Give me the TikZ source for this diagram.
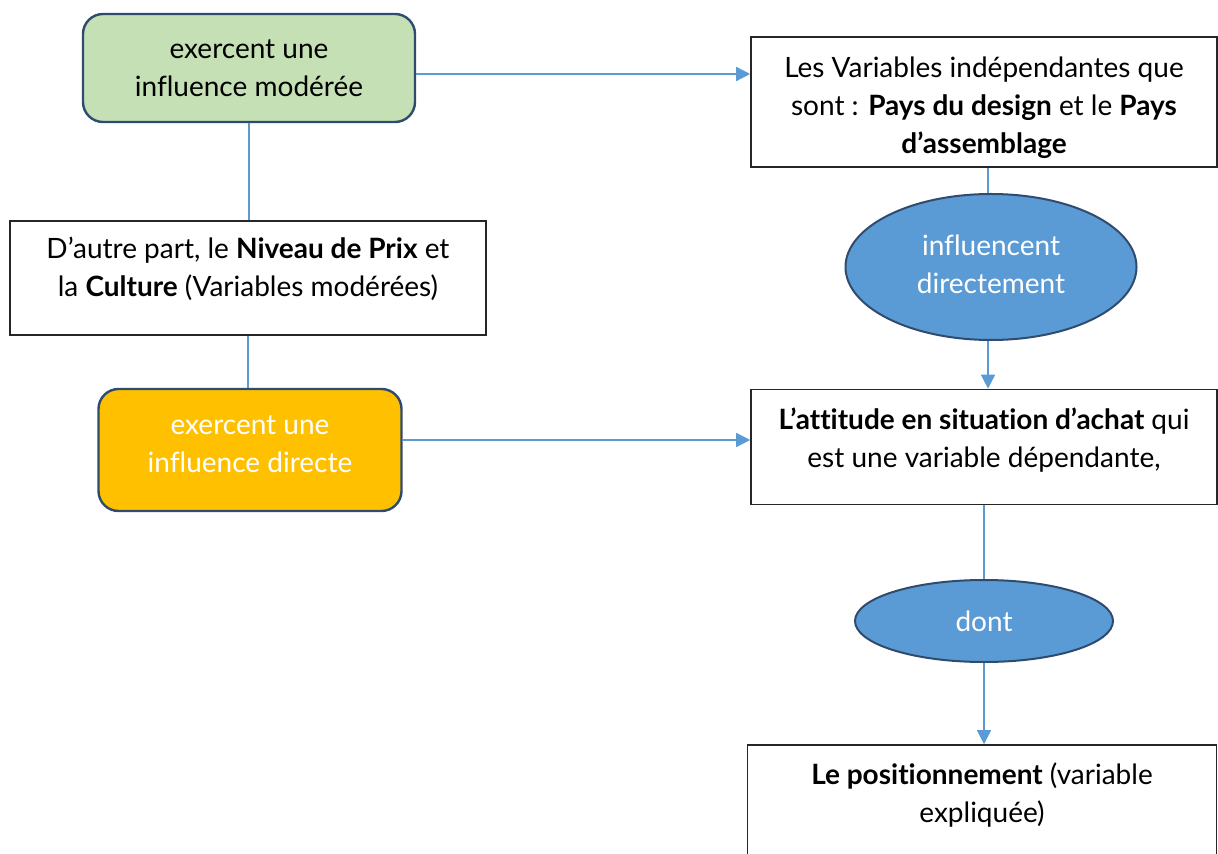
\documentclass[tikz,border=0pt]{standalone}
\usepackage{fontspec}
\setmainfont{Lato}[Ligatures=NoCommon]
\usetikzlibrary{shapes.geometric,arrows.meta}
\definecolor{vertclair}{HTML}{C5E0B4}
\definecolor{orangevif}{HTML}{FFC000}
\definecolor{bleuforme}{HTML}{5B9BD5}
\definecolor{bordfonce}{HTML}{2F4B6E}
\tikzset{
	texte/.style={align=center, inner sep=0pt, font=\fontsize{14}{19}\selectfont},
	boite/.style={texte, draw=black!85, line width=0.8pt, fill=white},
	arrondi/.style={texte, draw=bordfonce, line width=1.2pt, rounded corners=10pt},
	bulle/.style={texte, ellipse, draw=bordfonce, line width=1pt, fill=bleuforme, text=white},
	lien/.style={draw=bleuforme, line width=0.7pt},
	fleche/.style={lien, -{Triangle[length=7pt,width=7pt]}}
}
\begin{document}
\begin{tikzpicture}[x=0.5pt, y=-0.5pt]
	\useasboundingbox (0,0) rectangle (1218,854);
	\node[arrondi, fill=vertclair, minimum width=166pt, minimum height=54pt] (modere) at (249,68) {exercent une\\influence modérée};
	\node[boite, minimum width=238pt, minimum height=57pt] (prix) at (248,278) {D’autre part, le \textbf{Niveau de Prix} et\\la \textbf{Culture} (Variables modérées)\\[-8pt]~};
	\node[arrondi, fill=orangevif, text=white, minimum width=151.5pt, minimum height=61pt] (direct) at (250,450) {exercent une\\influence directe\rule[-6pt]{0pt}{0pt}};
	\node[boite, minimum width=233pt, minimum height=65pt] (indep) at (984,102) {\rule{0pt}{16pt}Les Variables indépendantes que\\sont : \textbf{Pays du design} et le \textbf{Pays}\\\textbf{d’assemblage}};
	\node[bulle, minimum width=145.5pt, minimum height=73pt] (infl) at (991,267) {influencent\\directement\rule[-3pt]{0pt}{0pt}};
	\node[boite, minimum width=233pt, minimum height=57.5pt] (attitude) at (984,447) {\textbf{L’attitude en situation d’achat} qui\\est une variable dépendante,\\[-10pt]~};
	\node[bulle, minimum width=129pt, minimum height=41pt] (dont) at (984,621) {dont};
	\node[boite, minimum width=234.5pt, minimum height=67pt] (posit) at (982,812) {\textbf{Le positionnement} (variable\\expliquée)\\~};
	\draw[lien] (modere.south) -- (modere.south |- prix.north);
	\draw[lien] (prix.south) -- (prix.south |- direct.north);
	\draw[fleche] ([yshift=-3pt]modere.east) -- ([yshift=-3pt]modere.east -| indep.west);
	\draw[fleche] ([yshift=5pt]direct.east) -- ([yshift=5pt]direct.east -| attitude.west);
	\draw[lien] ([xshift=2pt]indep.south) -- ([xshift=2pt]indep.south |- infl.north);
	\draw[fleche] ([xshift=-1.5pt]infl.south) -- ([xshift=-1.5pt]infl.south |- attitude.north);
	\draw[lien] (attitude.south) -- (dont.north);
	\draw[fleche] (dont.south) -- (dont.south |- posit.north);
\end{tikzpicture}
\end{document}
